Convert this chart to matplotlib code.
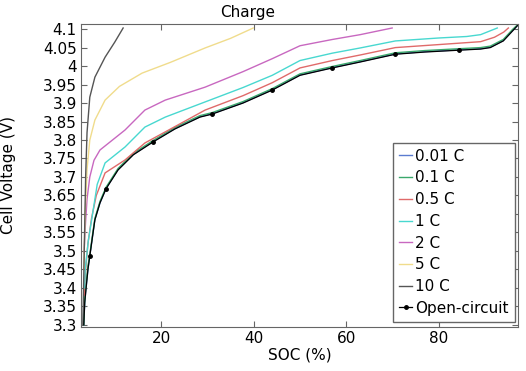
import matplotlib
matplotlib.use('Agg')
import matplotlib.pyplot as plt

# Data (SOC in %, voltage in V)
soc_ocv = [3.3, 3.5, 3.8, 4.2, 4.6, 5.2, 5.7, 6.8, 8.1, 10.7, 14, 18.3, 23, 28.4, 31,
           37.7, 44, 50, 57, 63, 70.6, 77, 84.4, 89, 91.1, 93.9, 95.9, 97]
v_ocv = [3.30, 3.36, 3.40, 3.45, 3.486, 3.54, 3.584, 3.63, 3.668, 3.719, 3.76, 3.795, 3.83,
         3.862, 3.870, 3.900, 3.935, 3.975, 3.995, 4.011, 4.032, 4.038, 4.043, 4.046,
         4.050, 4.068, 4.095, 4.11]
ocv_marks = [4, 8, 11, 14, 16, 18, 20, 22]

v_001 = [3.30, 3.36, 3.40, 3.45, 3.487, 3.54, 3.585, 3.63, 3.669, 3.720, 3.761, 3.796, 3.831,
         3.863, 3.871, 3.901, 3.936, 3.976, 3.996, 4.012, 4.033, 4.039, 4.044, 4.047,
         4.051, 4.069, 4.096, 4.11]
v_01 = [3.30, 3.37, 3.41, 3.46, 3.49, 3.545, 3.588, 3.634, 3.672, 3.723, 3.764, 3.799, 3.834,
        3.866, 3.874, 3.904, 3.939, 3.979, 3.999, 4.015, 4.036, 4.042, 4.047, 4.050,
        4.054, 4.072, 4.099, 4.112]

soc_05 = [3.4, 3.7, 4.2, 5, 6, 7.9, 12.2, 16.5, 20.9, 29.5, 37.7, 44, 50, 57, 63, 70.6,
          84.4, 89, 92, 94, 95]
v_05 = [3.38, 3.45, 3.52, 3.59, 3.65, 3.711, 3.746, 3.792, 3.822, 3.881, 3.920, 3.955,
        3.995, 4.015, 4.030, 4.050, 4.062, 4.066, 4.078, 4.092, 4.103]

soc_1 = [3.5, 3.6, 4.3, 5.1, 6.2, 7.9, 12.2, 16.5, 20.9, 29.5, 37.7, 44, 50, 57, 63, 70.6,
         80, 86, 89, 91, 92.6]
v_1 = [3.40, 3.449, 3.53, 3.592, 3.68, 3.738, 3.781, 3.835, 3.862, 3.903, 3.942, 3.975,
       4.015, 4.035, 4.049, 4.068, 4.076, 4.080, 4.085, 4.095, 4.103]

soc_2 = [3.35, 3.6, 4.0, 4.6, 5.5, 6.8, 9, 12.2, 16.5, 20.9, 29.5, 37.7, 44, 50, 57, 63, 69.9]
v_2 = [3.495, 3.56, 3.64, 3.70, 3.745, 3.773, 3.795, 3.827, 3.881, 3.908, 3.943, 3.985,
       4.020, 4.055, 4.072, 4.085, 4.103]

soc_5 = [3.3, 3.6, 4.0, 4.6, 5.7, 7.9, 11, 15.9, 22, 29.5, 35, 39.9]
v_5 = [3.45, 3.60, 3.72, 3.80, 3.854, 3.908, 3.945, 3.981, 4.010, 4.049, 4.075, 4.103]

soc_10 = [3.1, 3.4, 3.7, 4.0, 4.6, 5.7, 7.9, 10, 11.8]
v_10 = [3.30, 3.50, 3.70, 3.82, 3.916, 3.970, 4.024, 4.065, 4.103]

yticks = [3.3, 3.35, 3.4, 3.45, 3.5, 3.55, 3.6, 3.65, 3.7, 3.75, 3.8, 3.85, 3.9, 3.95,
          4.0, 4.05, 4.1]
ytick_labels = ['3.3', '3.35', '3.4', '3.45', '3.5', '3.55', '3.6', '3.65', '3.7', '3.75',
                '3.8', '3.85', '3.9', '3.95', '4', '4.05', '4.1']
xticks = [20, 40, 60, 80]

plt.rcParams['font.family'] = ['DejaVu Sans']
fig = plt.figure(figsize=(5.26, 3.71), dpi=100)
ax = fig.add_axes([0.154, 0.119, 0.831, 0.816])

lw = 1.0
ax.plot(soc_ocv, v_001, color='#5b7bd0', lw=lw, label='0.01 C')
ax.plot(soc_ocv, v_01, color='#3aa86b', lw=lw, label='0.1 C')
ax.plot(soc_05, v_05, color='#e06a6a', lw=lw, label='0.5 C')
ax.plot(soc_1, v_1, color='#48d8d0', lw=lw, label='1 C')
ax.plot(soc_2, v_2, color='#c868c0', lw=lw, label='2 C')
ax.plot(soc_5, v_5, color='#f0dc8c', lw=lw, label='5 C')
ax.plot(soc_10, v_10, color='#555555', lw=lw, label='10 C')
ax.plot(soc_ocv, v_ocv, color='black', lw=0.9, marker='o', markersize=2.5,
        markevery=ocv_marks, label='Open-circuit')

ax.set_xlim(2.7, 97.1)
ax.set_ylim(3.2946, 4.1135)
ax.set_xticks(xticks)
ax.set_yticks(yticks)
ax.set_yticklabels(ytick_labels)
ax.tick_params(direction='in', top=True, right=True, labelsize=11, length=4,
               color='#666666', pad=3)
for s in ax.spines.values():
    s.set_color('#666666')

ax.set_xlabel('SOC (%)', fontsize=11, labelpad=1)
ax.set_ylabel('Cell Voltage (V)', fontsize=11, labelpad=19)
fig.text(248 / 526, 1 - 12 / 371, 'Charge', fontsize=11, ha='center', va='center')

leg = ax.legend(loc='lower right', fontsize=11, handlelength=0.9, handletextpad=0.2,
                borderpad=0.4, labelspacing=0.44, fancybox=False, framealpha=1,
                borderaxespad=0, bbox_to_anchor=(0.993, 0.0165))
leg.get_frame().set_edgecolor('#666666')

fig.savefig('out.png', dpi=100)
